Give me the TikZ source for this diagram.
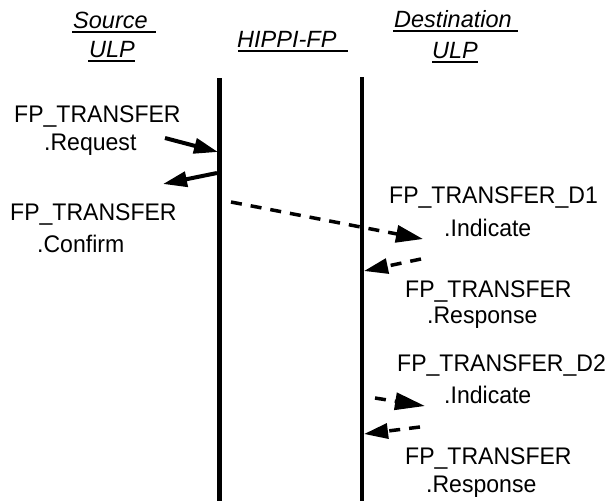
\documentclass[tikz,border=0pt]{standalone}
\usepackage{fontspec}
\setmainfont{Liberation Sans}[FakeStretch=0.96]
\newfontfamily\ttlfont{Liberation Sans}
\usetikzlibrary{arrows.meta}
\begin{document}
\begin{tikzpicture}[x=1pt,y=-1pt,
  lbl/.style={anchor=base west,inner sep=0pt,font=\fontsize{24}{28}\selectfont},
  ttl/.style={anchor=base west,inner sep=0pt,font=\ttlfont\itshape\fontsize{23.5}{28}\selectfont},
  uline/.style={line width=2pt},
  life/.style={line width=4.5pt},
  solidarrow/.style={line width=4pt,-{Triangle[length=24pt,width=15pt]}},
  dasharrow/.style={line width=3.5pt,dash pattern=on 11pt off 9pt,-{Triangle[length=27pt,width=17pt]}}]
\useasboundingbox (0,0) rectangle (607,501);

% titles
\node[ttl] (tsrc1) at (73,28) {Source};
\node[ttl] (tsrc2) at (89,57) {ULP};
\node[ttl] (thip) at (237,47) {HIPPI-FP};
\node[ttl] (tdst1) at (394,27) {Destination};
\node[ttl] (tdst2) at (432,58) {ULP};
\draw[uline] (72,32) -- (156,32);
\draw[uline] (88,61) -- (135,61);
\draw[uline] (238,51) -- (348,51);
\draw[uline] (393,31) -- (518,31);
\draw[uline] (432,62) -- (478,62);

% lifelines
\coordinate (srcTop) at (219.5,78);
\coordinate (srcBot) at (219.5,501);
\coordinate (dstTop) at (362,77);
\coordinate (dstBot) at (362,501);
\draw[life] (srcTop) -- (srcBot);
\draw[life] (dstTop) -- (dstBot);

% labels left
\node[lbl] (req1) at (14,122) {FP\_TRANSFER};
\node[lbl] (req2) at (44,150) {.Request};
\node[lbl] (con1) at (10,220) {FP\_TRANSFER};
\node[lbl] (con2) at (37,252) {.Confirm};

% labels right
\node[lbl] (ind1a) at (389,203) {FP\_TRANSFER\_D1};
\node[lbl] (ind1b) at (444,236) {.Indicate};
\node[lbl] (res1a) at (405,297) {FP\_TRANSFER};
\node[lbl] (res1b) at (427,323) {.Response};
\node[lbl] (ind2a) at (397,371) {FP\_TRANSFER\_D2};
\node[lbl] (ind2b) at (444,403) {.Indicate};
\node[lbl] (res2a) at (405,464) {FP\_TRANSFER};
\node[lbl] (res2b) at (426,492) {.Response};

% arrow end points
\coordinate (reqS) at (165,138);
\coordinate (reqE) at (218,152);
\coordinate (conS) at (217,173);
\coordinate (conE) at (163,184);
\coordinate (i1S) at (231,202);
\coordinate (i1E) at (423,239);
\coordinate (r1S) at (421,259);
\coordinate (r1E) at (364,271);
\coordinate (i2S) at (375,398);
\coordinate (i2E) at (425,406);
\coordinate (r2S) at (420,427);
\coordinate (r2E) at (364,434);

\draw[solidarrow] (reqS) -- (reqE);
\draw[solidarrow] (conS) -- (conE);
\draw[dasharrow] (i1S) -- (i1E);
\draw[dasharrow,-{Triangle[length=24pt,width=15pt]}] (r1S) -- (r1E);
\draw[dasharrow,-{Triangle[length=30pt,width=17pt]}] (i2S) -- (i2E);
\draw[dasharrow,-{Triangle[length=24pt,width=15pt]}] (r2S) -- (r2E);
\end{tikzpicture}
\end{document}
